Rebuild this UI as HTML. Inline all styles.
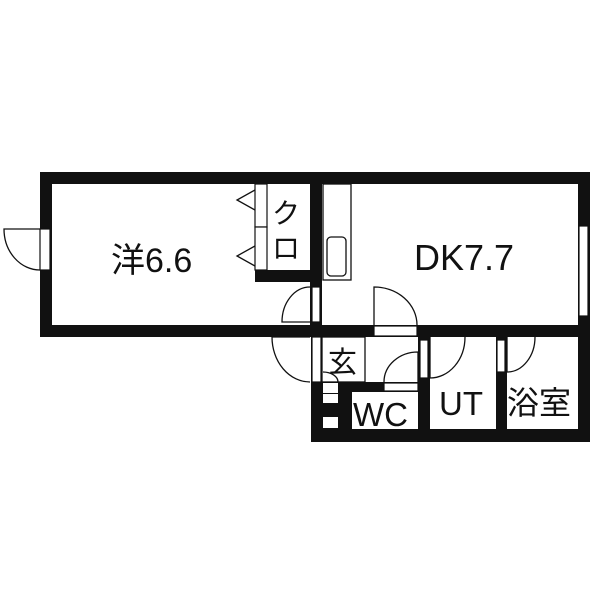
<!DOCTYPE html>
<html><head><meta charset="utf-8"><style>
html,body{margin:0;padding:0;background:#fff;}
svg{display:block;}
text{font-family:"Liberation Sans","Noto Sans CJK JP",sans-serif;fill:#111;}
</style></head><body>
<svg width="600" height="600" viewBox="0 0 600 600" xmlns="http://www.w3.org/2000/svg">
<rect width="600" height="600" fill="#fff"/>
<g fill="#111">
<rect x="40" y="172" width="550" height="12"/>
<rect x="40" y="172" width="12" height="165"/>
<rect x="578" y="172" width="12" height="270"/>
<rect x="40" y="325" width="550" height="12"/>
<rect x="311" y="429" width="279" height="13"/>
<rect x="310" y="172" width="12" height="165"/>
<rect x="255" y="270" width="67" height="12"/>
<rect x="311" y="382" width="41" height="60"/>
<rect x="311" y="337" width="11" height="50"/>
<rect x="338" y="382" width="80" height="10"/>
<rect x="418" y="337" width="12" height="105"/>
<rect x="496" y="337" width="11" height="105"/>
</g>
<g fill="#fff" stroke="#111" stroke-width="1.2">
<rect x="40" y="229" width="10" height="41"/>
<rect x="312" y="287" width="8" height="35"/>
<rect x="374" y="326" width="43" height="10"/>
<rect x="312" y="337" width="9" height="45"/>
<rect x="384" y="383" width="34" height="8"/>
<rect x="420" y="340" width="8" height="38"/>
<rect x="497" y="340" width="8" height="32"/>
<rect x="579" y="226" width="9" height="90"/>
<rect x="323" y="383" width="15" height="10" stroke="none"/>
<rect x="323" y="394" width="15" height="9" stroke="none"/>
<rect x="323" y="417" width="15" height="11" stroke="none"/>
<rect x="352" y="392" width="66" height="37" stroke="none"/>
</g>
<g fill="#fff" stroke="#111" stroke-width="1.2">
<rect x="255" y="184" width="12" height="43"/>
<rect x="255" y="227" width="12" height="43"/>
</g>
<g fill="none" stroke="#111" stroke-width="1.3">
<polyline points="255,190 237,200 255,210"/>
<polyline points="255,246 237,256 255,266"/>
<path d="M40,229 L4,229 A36,41 0 0 0 40,270"/>
<path d="M310,322 L282,322 A28,35 0 0 1 310,287"/>
<path d="M374,325 L374,287 A43,38 0 0 1 417,325"/>
<path d="M310,337 L272,337 A38,45 0 0 0 310,382"/>
<path d="M418,382 L418,352 A34,30 0 0 0 384,382"/>
<path d="M430,337 L430,378 A35,41 0 0 0 465,337"/>
<path d="M507,337 L507,372 A28,35 0 0 0 535,337"/>
<path d="M323,372 A15,10 0 0 1 338,382"/>
<rect x="322" y="337" width="43" height="45"/>
<rect x="323" y="184" width="28" height="96"/>
<rect x="327" y="237" width="19" height="39" rx="4"/>
</g>
<text x="111" y="272" font-size="34">洋6.6</text>
<text x="414" y="270" font-size="36">DK7.7</text>
<text x="272" y="223" font-size="28">ク</text>
<text x="272" y="258" font-size="28">ロ</text>
<text x="328" y="372" font-size="29">玄</text>
<text x="353" y="426" font-size="33">WC</text>
<text x="439" y="415" font-size="33">UT</text>
<text x="507" y="414" font-size="32">浴室</text>
</svg>
</body></html>
